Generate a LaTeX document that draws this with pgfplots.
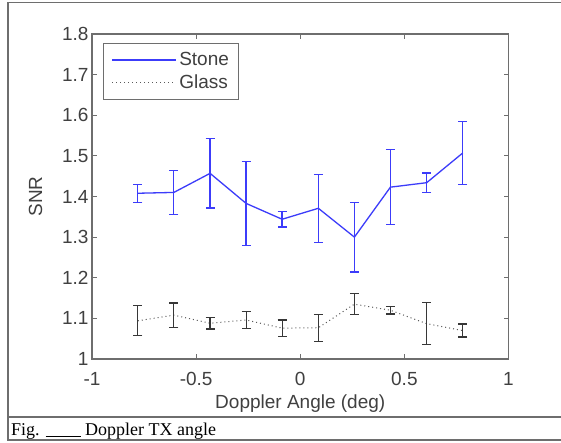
\documentclass[border=0pt]{standalone}
\usepackage{fontspec}
\setmainfont{Liberation Sans}
\newfontfamily\capfont{Liberation Serif}
\usepackage{pgfplots}
\pgfplotsset{compat=1.18}
\definecolor{stoneblue}{RGB}{60,60,250}
\definecolor{framegray}{RGB}{110,110,110}
\definecolor{glassbar}{RGB}{55,55,55}
\definecolor{glassdot}{RGB}{90,90,90}
\begin{document}
\begin{tikzpicture}[x=1pt,y=1pt]
\fill[white] (0,0) rectangle (561,442);
% outer frame and caption row
\draw[framegray,line width=1.4pt] (561,439.5) -- (8,439.5) -- (8,2) -- (561,2);
\draw[framegray,line width=1.4pt] (8,25) -- (561,25);
\node[anchor=base west,inner sep=0pt,font=\capfont\fontsize{18}{20}\selectfont] at (11,7)
  {Fig. \rule[-2pt]{35pt}{0.9pt} Doppler TX angle};
\begin{axis}[
  at={(92pt,83pt)}, anchor=south west,
  scale only axis, width=416.5pt, height=325pt,
  xmin=-1, xmax=1, ymin=1, ymax=1.8,
  xtick={-1,-0.5,0,0.5,1},
  ytick={1,1.1,1.2,1.3,1.4,1.5,1.6,1.7,1.8},
  tick align=inside, major tick length=5pt,
  axis line style={framegray,line width=1.2pt},
  every tick/.style={framegray,line width=1pt},
  font=\fontsize{19}{21}\selectfont,
  ticklabel style={font=\fontsize{19}{21}\selectfont, text=black!75},
  /pgf/number format/assume math mode=true,
  yticklabel style={/pgf/number format/fixed,/pgf/number format/precision=1},
  xticklabel style={anchor=base, yshift=-26pt},
  xlabel={Doppler Angle (deg)}, ylabel={SNR},
  label style={text=black!75},
  xlabel style={at={(axis description cs:0.5,0)}, anchor=base, yshift=-49pt},
  ylabel style={at={(axis description cs:-0.1352,0.5)}, anchor=center},
  legend style={at={(axis description cs:0.0257,0.973)}, anchor=north west,
    draw=framegray, line width=1.1pt, font=\fontsize{19}{21}\selectfont,
    inner xsep=8pt, inner ysep=7pt, row sep=4pt,
    /tikz/every even column/.append style={column sep=5pt}},
  legend cell align=left,
]
\addlegendimage{legend image code/.code={\draw[color=stoneblue, line width=2pt] (0pt,0pt) -- (64pt,0pt);}}
\addlegendentry{\textcolor{black!75}{Stone}}
\addlegendimage{legend image code/.code={\draw[color=glassdot, line width=1pt, dash pattern=on 1pt off 3pt] (0pt,0pt) -- (64pt,0pt);}}
\addlegendentry{\textcolor{black!75}{Glass}}
\addplot[stoneblue, line width=1.3pt, mark=none, forget plot,
  error bars/.cd, y dir=both, y explicit,
  error bar style={stoneblue,line width=1.3pt,solid},
  error mark options={rotate=90, mark size=4.5pt, stoneblue, line width=1.3pt}]
  table[x=x, y=y, y error=e] {
x y e
-0.780 1.408 0.022
-0.607 1.410 0.054
-0.433 1.457 0.085
-0.260 1.383 0.103
-0.087 1.344 0.019
0.087 1.371 0.084
0.260 1.300 0.086
0.433 1.423 0.092
0.607 1.434 0.024
0.780 1.507 0.077
};
\addplot[glassdot, line width=1pt, dash pattern=on 1pt off 3pt, mark=none, forget plot,
  error bars/.cd, y dir=both, y explicit,
  error bar style={glassbar,line width=1.2pt,solid},
  error mark options={rotate=90, mark size=4.5pt, glassbar, line width=1.2pt, solid}]
  table[x=x, y=y, y error=e] {
x y e
-0.780 1.094 0.037
-0.607 1.108 0.030
-0.433 1.088 0.014
-0.260 1.096 0.020
-0.087 1.076 0.020
0.087 1.077 0.033
0.260 1.135 0.026
0.433 1.120 0.009
0.607 1.087 0.052
0.780 1.070 0.016
};
\end{axis}
\pgfresetboundingbox
\path (0,0) rectangle (561,442);
\end{tikzpicture}
\end{document}
